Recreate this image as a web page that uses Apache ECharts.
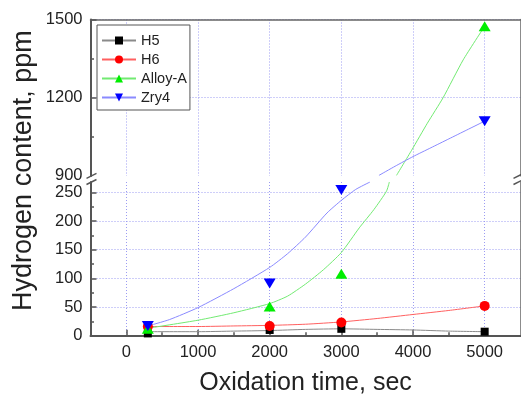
<!DOCTYPE html>
<html>
<head>
<meta charset="utf-8">
<title>Hydrogen content vs oxidation time</title>
<script src="https://cdn.jsdelivr.net/npm/echarts@6/dist/echarts.min.js"></script>
<style>
  html, body { margin: 0; padding: 0; background: #fff; }
  #chart { width: 521px; height: 396px; }
</style>
</head>
<body>
<div id="chart"></div>
<script>
// measured points (sec, ppm)
const TIMES = [300, 2000, 3000, 5000];
const H5 = [4, 10, 12, 7];
const H6 = [16, 17, 23, 52];
const ALLOY_A = [12, 51, 108, 1474];
const ZRY4 = [17, 91, 254, 1110];

// fitted curves, '-' = hidden inside the axis break
const H5_FIT = [[300, 7], [1000, 7], [1500, 8], [2000, 9], [2500, 11], [3000, 12],
  [3500, 11], [4000, 10], [4500, 8], [5000, 7]];
const H6_FIT = [[300, 16], [1000, 16], [1500, 17], [2000, 18], [2500, 20], [3000, 24],
  [3500, 30], [4000, 37], [4500, 44], [5000, 52]];
const ALLOY_A_FIT = [[300, 13], [1000, 27], [1500, 40], [2000, 56], [2250, 69], [2500, 90],
  [2750, 115], [3000, 145], [3250, 188], [3455, 220], [3630, 252], [3670, 268],
  [3720, '-'], [3770, 902], [3980, 998], [4200, 1102], [4420, 1200], [4700, 1345], [5000, 1474]];
const ZRY4_FIT = [[300, 17], [600, 28], [1000, 49], [1500, 82], [2000, 119], [2250, 143],
  [2500, 172], [2800, 214], [3000, 236], [3200, 255], [3400, 268],
  [3460, '-'], [3525, 902], [3750, 937], [4000, 974], [4250, 1008], [4500, 1042],
  [4750, 1076], [5000, 1110]];

// axis ticks
const X_MAJOR = [0, 1000, 2000, 3000, 4000, 5000];
const X_MINOR = [500, 1500, 2500, 3500, 4500];
const Y_LOW_LABELS = [0, 50, 100, 150, 200, 250];
const Y_LOW_MAJOR = [50, 100, 150, 200, 250];
const Y_LOW_MINOR = [25, 75, 125, 175, 225];
const Y_HIGH_LABELS = [900, 1200, 1500];
const Y_HIGH_MAJOR = [1200, 1500];
const Y_HIGH_MINOR = [1050, 1350];

const NAMES = ['H5', 'H6', 'Alloy-A', 'Zry4'];
const FITS = [H5_FIT, H6_FIT, ALLOY_A_FIT, ZRY4_FIT];
const POINTS = [H5, H6, ALLOY_A, ZRY4];
const MARK_COLORS = ['#000000', '#ff0000', '#00ee00', '#0000ff'];
const LINE_COLORS = ['#8a8a8a', '#ff6060', '#72ea72', '#8a8aff'];
const SYMBOLS = ['rect', 'circle', 'triangle', 'triangle'];
const SYMBOL_SIZES = [8, 10, [12, 10], [12, 10]];
const ROTATES = [0, 0, 0, 180];

const FONT = "'Liberation Sans', Arial, sans-serif";
const TEXT = '#222';
const AXIS = '#555';
const gridLine = { show: true, lineStyle: { color: '#9c9cf2', width: 1, type: [1, 2] } };
const off = { show: false };
const plain = (v) => String(v);

const chart = echarts.init(document.getElementById('chart'), null, { renderer: 'canvas' });

// grid 0 = upper panel (900-1500), grid 1 = lower panel (0-268)
const LOW_X = 0, HIGH_X = 2;
const HIGH_Y = 0, LOW_Y = 3;

const series = [];
[[LOW_X, LOW_Y], [HIGH_X, HIGH_Y]].forEach(([xi, yi]) => {
  NAMES.forEach((name, i) => {
    series.push({
      name,
      type: 'line',
      xAxisIndex: xi,
      yAxisIndex: yi,
      data: FITS[i],
      showSymbol: false,
      symbol: SYMBOLS[i],
      symbolRotate: ROTATES[i],
      smooth: 0.2,
      connectNulls: false,
      clip: true,
      itemStyle: { color: MARK_COLORS[i] },
      lineStyle: { color: LINE_COLORS[i], width: 1 },
      silent: true,
      z: 2
    });
  });
});
[[LOW_X, LOW_Y], [HIGH_X, HIGH_Y]].forEach(([xi, yi]) => {
  NAMES.forEach((name, i) => {
    series.push({
      name,
      type: 'scatter',
      xAxisIndex: xi,
      yAxisIndex: yi,
      data: TIMES.map((t, k) => [t, POINTS[i][k]]),
      symbol: SYMBOLS[i],
      symbolSize: SYMBOL_SIZES[i],
      symbolRotate: ROTATES[i],
      clip: true,
      itemStyle: { color: MARK_COLORS[i], opacity: 1 },
      z: 3
    });
  });
});

const labelStyle = { fontSize: 16.5, fontFamily: FONT, color: TEXT, formatter: plain };

const option = {
  animation: false,
  backgroundColor: '#fff',
  grid: [
    { left: 90.5, right: 0.5, top: 19.5, height: 156.4, outerBoundsMode: 'none' },
    { left: 90.5, right: 0.5, top: 182, height: 153.7, outerBoundsMode: 'none' }
  ],
  legend: {
    orient: 'vertical',
    left: 97,
    top: 25,
    padding: [8, 3, 5, 4],
    itemWidth: 34,
    itemHeight: 10,
    itemGap: 4,
    backgroundColor: '#fff',
    borderColor: AXIS,
    borderWidth: 1,
    borderRadius: 0,
    textStyle: { fontSize: 14.5, lineHeight: 15, fontFamily: FONT, color: TEXT },
    data: NAMES,
    z: 10
  },
  xAxis: [
    {
      gridIndex: 1, type: 'value', position: 'bottom', min: -500, max: 5500,
      axisLine: { onZero: false, lineStyle: { color: AXIS, width: 2 } },
      axisTick: { inside: true, length: 6, customValues: X_MAJOR, lineStyle: { color: AXIS, width: 1.5 } },
      axisLabel: { customValues: X_MAJOR, margin: 8, ...labelStyle },
      splitLine: gridLine,
      name: 'Oxidation time, sec',
      nameLocation: 'middle',
      nameGap: 47,
      nameTextStyle: { fontSize: 25, fontFamily: FONT, color: TEXT, verticalAlign: 'middle' }
    },
    {
      gridIndex: 1, type: 'value', position: 'bottom', min: -500, max: 5500,
      axisLine: { show: false, onZero: false },
      axisTick: { inside: true, length: 3.5, customValues: X_MINOR, lineStyle: { color: AXIS, width: 1.5 } },
      axisLabel: off,
      splitLine: off
    },
    {
      gridIndex: 0, type: 'value', position: 'top', min: -500, max: 5500,
      axisLine: { onZero: false, lineStyle: { color: '#666', width: 1.5 } },
      axisTick: { show: false, customValues: X_MAJOR },
      axisLabel: off,
      splitLine: gridLine
    }
  ],
  yAxis: [
    {
      gridIndex: 0, type: 'value', position: 'left', min: 900, max: 1500,
      axisLine: { show: true, onZero: false, lineStyle: { color: AXIS, width: 2 } },
      axisTick: { show: true, inside: true, length: 6, customValues: Y_HIGH_MAJOR, lineStyle: { color: AXIS, width: 1.5 } },
      axisLabel: { customValues: Y_HIGH_LABELS, margin: 8, ...labelStyle },
      splitLine: gridLine
    },
    {
      gridIndex: 0, type: 'value', position: 'left', min: 900, max: 1500,
      axisLine: { show: false, onZero: false },
      axisTick: { show: true, inside: true, length: 3.5, customValues: Y_HIGH_MINOR, lineStyle: { color: AXIS, width: 1.5 } },
      axisLabel: off,
      splitLine: off
    },
    {
      gridIndex: 0, type: 'value', position: 'right', min: 900, max: 1500,
      axisLine: { show: true, onZero: false, lineStyle: { color: '#666', width: 1.5 } },
      axisTick: off, axisLabel: off, splitLine: off
    },
    {
      gridIndex: 1, type: 'value', position: 'left', min: 0, max: 268,
      axisLine: { show: true, onZero: false, lineStyle: { color: AXIS, width: 2 } },
      axisTick: { show: true, inside: true, length: 6, customValues: Y_LOW_MAJOR, lineStyle: { color: AXIS, width: 1.5 } },
      axisLabel: { customValues: Y_LOW_LABELS, margin: 8, ...labelStyle },
      splitLine: gridLine
    },
    {
      gridIndex: 1, type: 'value', position: 'left', min: 0, max: 268,
      axisLine: { show: false, onZero: false },
      axisTick: { show: true, inside: true, length: 3.5, customValues: Y_LOW_MINOR, lineStyle: { color: AXIS, width: 1.5 } },
      axisLabel: off,
      splitLine: off
    },
    {
      gridIndex: 1, type: 'value', position: 'right', min: 0, max: 268,
      axisLine: { show: true, onZero: false, lineStyle: { color: '#666', width: 1.5 } },
      axisTick: off, axisLabel: off, splitLine: off
    }
  ],
  series
};

chart.setOption(option);

// y title and break marks, placed from the axes themselves
const yBreakHigh = chart.convertToPixel({ yAxisIndex: HIGH_Y }, 900);
const yBreakLow = chart.convertToPixel({ yAxisIndex: LOW_Y }, 268);
const xLeft = chart.convertToPixel({ xAxisIndex: LOW_X }, -500);
const xRight = chart.convertToPixel({ xAxisIndex: LOW_X }, 5500);
const yMid = (chart.convertToPixel({ yAxisIndex: HIGH_Y }, 1500) + chart.convertToPixel({ yAxisIndex: LOW_Y }, 0)) / 2;

function slash(x, y) {
  return {
    type: 'line',
    shape: { x1: x - 5, y1: y + 2.5, x2: x + 5, y2: y - 2.5 },
    style: { stroke: AXIS, lineWidth: 1.5 },
    z: 20
  };
}

chart.setOption({
  graphic: [
    slash(xLeft + 1, yBreakHigh), slash(xLeft + 1, yBreakLow),
    slash(xRight - 2, yBreakHigh), slash(xRight - 2, yBreakLow),
    {
      type: 'text',
      x: 24,
      y: yMid - 7,
      rotation: Math.PI / 2,
      style: {
        text: 'Hydrogen content, ppm',
        fontSize: 27,
        fontFamily: FONT,
        fill: TEXT,
        align: 'center',
        verticalAlign: 'middle'
      },
      z: 20
    }
  ]
});
</script>
</body>
</html>
